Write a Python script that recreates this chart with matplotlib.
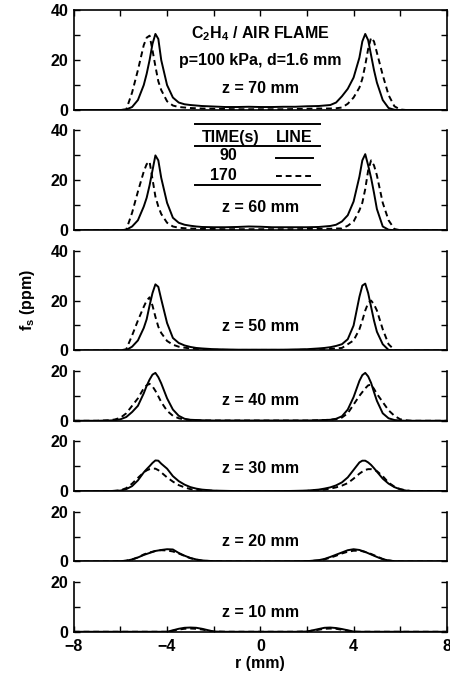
import numpy as np
import matplotlib
matplotlib.use('Agg')
import matplotlib.pyplot as plt
from matplotlib.lines import Line2D
from matplotlib.ticker import MultipleLocator

plt.rcParams['font.family'] = 'Liberation Sans'
plt.rcParams['font.weight'] = 'bold'
plt.rcParams['axes.labelweight'] = 'bold'
plt.rcParams['mathtext.fontset'] = 'custom'
plt.rcParams['mathtext.rm'] = 'Liberation Sans:bold'
plt.rcParams['mathtext.it'] = 'Liberation Sans:bold'
plt.rcParams['mathtext.bf'] = 'Liberation Sans:bold'

FS = 11.5

# radial positions (mm)
r = [-8, -7, -6.5, -6.25, -6, -5.75, -5.5, -5.25, -5, -4.875, -4.75, -4.625, -4.5, -4.375, -4.25,
     -4, -3.75, -3.5, -3.25, -3, -2.75, -2.5,
     -2, -1.5, -1, -0.5, 0, 0.5, 1, 1.5, 2,
     2.5, 2.75, 3, 3.25, 3.5, 3.75, 4, 4.25, 4.375, 4.5, 4.625, 4.75, 4.875, 5,
     5.25, 5.5, 5.75, 6, 6.25, 6.5, 7, 8]

heights = [70, 60, 50, 40, 30, 20, 10]
ymax = [40, 40, 40, 20, 20, 20, 20]

# soot volume fraction (ppm), t = 90 s (solid) and 170 s (dashed)
fs70_90 = [0, 0, 0, 0, 0, 0.2, 1.2, 4, 10, 14.5, 20, 26.5, 30.5, 28.5, 20, 10, 5, 3, 2.3, 2, 1.8, 1.6,
           1.4, 1.2, 1.2, 1.3, 1.2, 1.2, 1.3, 1.3, 1.5,
           1.6, 1.8, 2, 3, 5.5, 8.5, 13, 21, 27.5, 30.5, 28, 22, 16, 11, 4, 0.8, 0.1, 0, 0, 0, 0, 0]
fs70_170 = [0, 0, 0, 0, 0, 0.2, 7, 16, 26, 29, 29.8, 24, 17.5, 11.5, 8, 3.5, 1.8, 1.2, 1, 0.8, 0.7, 0.6,
            0.5, 0.4, 0.3, 0.3, 0.3, 0.3, 0.3, 0.4, 0.5,
            0.6, 0.6, 0.6, 0.7, 1, 2.5, 5, 9, 12.5, 18, 24.5, 29, 27.5, 23, 14, 6, 1.5, 0.2, 0, 0, 0, 0]

fs60_90 = [0, 0, 0, 0, 0, 0.2, 1.5, 4, 9.5, 13, 18, 24, 30, 28, 21, 11, 5, 3, 2.2, 1.8, 1.5, 1.3,
           1.2, 1.2, 1.3, 1.5, 1.4, 1.2, 1.2, 1.2, 1.2,
           1.3, 1.5, 1.7, 2.2, 3.5, 6, 11.5, 21.5, 28, 30.5, 26, 21, 15, 8.5, 1.5, 0.2, 0, 0, 0, 0, 0, 0]
fs60_170 = [0, 0, 0, 0, 0, 0.2, 7, 15.5, 23.5, 26.5, 27.5, 20.5, 13.5, 9.5, 6.5, 3, 1.5, 1, 0.8, 0.7, 0.6, 0.5,
            0.5, 0.4, 0.4, 0.4, 0.4, 0.4, 0.4, 0.4, 0.5,
            0.5, 0.6, 0.6, 0.7, 0.7, 1.8, 3.5, 8, 11, 16.5, 24, 28, 26, 22, 11, 4, 0.5, 0, 0, 0, 0, 0]

fs50_90 = [0, 0, 0, 0, 0, 0.1, 1.5, 4, 9, 12.5, 18, 23, 26.5, 25.5, 20.5, 11, 5, 3, 2, 1.4, 1, 0.8,
           0.5, 0.4, 0.3, 0.3, 0.3, 0.3, 0.3, 0.4, 0.5,
           0.8, 1, 1.3, 1.8, 2.5, 4.5, 10, 21.5, 26, 26.8, 23, 17.5, 12, 7.5, 2.5, 0.2, 0, 0, 0, 0, 0, 0]
fs50_170 = [0, 0, 0, 0, 0, 0.5, 6, 12, 17.5, 20, 21.3, 18, 13.5, 9.5, 7, 3.8, 2.3, 1.5, 1.1, 0.8, 0.6, 0.5,
            0.3, 0.2, 0.2, 0.2, 0.2, 0.2, 0.2, 0.2, 0.3,
            0.4, 0.5, 0.6, 0.8, 1, 2.5, 4, 8.5, 12, 16, 19, 20, 18.5, 16, 8.5, 2.5, 0.2, 0, 0, 0, 0, 0]

fs40_90 = [0, 0, 0.1, 0.2, 0.6, 1.5, 3.5, 6, 11, 14, 16.5, 18.5, 19.2, 17.5, 15, 9, 4.5, 2, 0.8, 0.4, 0.3, 0.2,
           0.1, 0.1, 0.1, 0.1, 0.1, 0.1, 0.1, 0.1, 0.1,
           0.2, 0.3, 0.4, 0.8, 1.8, 4.5, 9.5, 16, 18.3, 19.2, 17.8, 15.2, 11.5, 8, 3, 1, 0.3, 0.1, 0, 0, 0, 0]
fs40_170 = [0, 0, 0.2, 0.5, 1.2, 3, 6, 9, 13, 14.2, 14.8, 13.8, 12, 9.8, 7.5, 4, 2, 1, 0.5, 0.3, 0.2, 0.1,
            0.1, 0.1, 0.1, 0.1, 0.1, 0.1, 0.1, 0.1, 0.1,
            0.2, 0.3, 0.4, 0.6, 1.3, 3, 6.5, 10, 11.5, 13, 14.2, 14.5, 12.8, 10.8, 7.5, 4.2, 2, 0.6, 0.2, 0, 0, 0]

fs30_90 = [0, 0, 0, 0.1, 0.2, 0.8, 2, 4.3, 7.5, 8.8, 10, 11.3, 12.3, 12.2, 11, 9, 6, 4, 2.6, 1.6, 1, 0.6,
           0.2, 0.1, 0, 0, 0, 0, 0, 0.1, 0.2,
           0.6, 1, 1.5, 2.3, 3.5, 5.5, 8.5, 11.5, 12.2, 12.2, 11.5, 10.5, 9.2, 7.8, 5, 3, 1.6, 0.7, 0.2, 0, 0, 0]
fs30_170 = [0, 0, 0, 0.1, 0.3, 1.2, 3, 5.3, 7.5, 8.3, 8.8, 9, 9, 8.4, 7.5, 5.5, 3.8, 2.4, 1.5, 0.8, 0.5, 0.3,
            0.1, 0, 0, 0, 0, 0, 0, 0, 0.1,
            0.4, 0.6, 1, 1.5, 2.2, 3.2, 5, 7, 7.8, 8.5, 8.8, 8.8, 8.5, 8, 6, 3.4, 1.8, 0.8, 0.3, 0, 0, 0]

fs20_90 = [0, 0, 0, 0, 0.1, 0.3, 0.8, 1.6, 2.6, 3.0, 3.4, 3.8, 4.2, 4.4, 4.6, 4.9, 4.8, 3.4, 2.3, 1.4, 0.8, 0.4,
           0.1, 0, 0, 0, 0, 0, 0, 0, 0.1,
           0.5, 1, 1.8, 2.7, 3.6, 4.5, 4.9, 4.6, 4.2, 3.8, 3.3, 2.8, 2.3, 1.8, 0.9, 0.4, 0.1, 0, 0, 0, 0, 0]
fs20_170 = [0, 0, 0, 0, 0.1, 0.3, 0.8, 1.6, 2.8, 3.2, 3.6, 3.9, 4.2, 4.4, 4.5, 4.4, 4.0, 3.2, 2.2, 1.3, 0.7, 0.3,
            0.1, 0, 0, 0, 0, 0, 0, 0, 0.1,
            0.4, 0.8, 1.5, 2.3, 3.2, 3.9, 4.3, 4.3, 4.1, 3.8, 3.4, 3.0, 2.5, 2.0, 1.0, 0.4, 0.1, 0, 0, 0, 0, 0]

fs10_90 = [0, 0, 0, 0, 0, 0, 0, 0, 0, 0, 0, 0, 0, 0, 0, 0, 0.6, 1.2, 1.6, 1.7, 1.6, 1.2,
           0.1, 0, 0, 0, 0, 0, 0, 0, 0.1,
           1.1, 1.6, 1.7, 1.5, 1.1, 0.6, 0.1, 0, 0, 0, 0, 0, 0, 0, 0, 0, 0, 0, 0, 0, 0, 0]
fs10_170 = [0, 0, 0, 0, 0, 0, 0, 0, 0, 0, 0, 0, 0, 0, 0, 0, 0.4, 0.9, 1.2, 1.3, 1.2, 0.9,
            0.1, 0, 0, 0, 0, 0, 0, 0, 0.1,
            0.8, 1.2, 1.3, 1.2, 0.8, 0.4, 0, 0, 0, 0, 0, 0, 0, 0, 0, 0, 0, 0, 0, 0, 0, 0]

solid = [fs70_90, fs60_90, fs50_90, fs40_90, fs30_90, fs20_90, fs10_90]
dashed = [fs70_170, fs60_170, fs50_170, fs40_170, fs30_170, fs20_170, fs10_170]
zlab_y = [8.8, 9.3, 9.5, 8.2, 9, 7.9, 7.9]

fig, axes = plt.subplots(7, 1, figsize=(4.5, 6.83), dpi=100, sharex=True,
                         gridspec_kw=dict(height_ratios=[2, 2, 2, 1, 1, 1, 1], hspace=0.287,
                                          left=0.164, right=0.993, top=0.985, bottom=0.075))

n = len(axes)
for i, ax in enumerate(axes):
    ax.plot(r, solid[i], color='black', lw=1.4)
    ax.plot(r, dashed[i], color='black', lw=1.4, ls=(0, (3, 2)))
    ax.set_xlim(-8, 8)
    ax.set_ylim(0, ymax[i])
    ax.xaxis.set_major_locator(MultipleLocator(4))
    ax.xaxis.set_minor_locator(MultipleLocator(2))
    ax.yaxis.set_major_locator(MultipleLocator(20))
    ax.yaxis.set_minor_locator(MultipleLocator(10))
    # only the top panel has a top frame; x ticks on outer edges only
    ax.tick_params(which='both', direction='in', right=True, length=4, width=1,
                   labelsize=FS, top=(i == 0), bottom=(i == n - 1))
    ax.tick_params(axis='y', pad=4)
    ax.tick_params(axis='x', pad=5)
    for s in ax.spines.values():
        s.set_linewidth(1.2)
    if i > 0:
        ax.spines['top'].set_visible(False)
    ax.text(0, zlab_y[i], f'z = {heights[i]} mm', ha='center', va='center', fontsize=FS)

axes[0].text(0, 30.8, r'$\mathrm{C_2H_4}$ / AIR FLAME', ha='center', va='center', fontsize=FS)
axes[0].text(0, 20, 'p=100 kPa, d=1.6 mm', ha='center', va='center', fontsize=FS)

# legend table in the z = 60 mm panel
ax = axes[1]
for yy in [1.065, 0.841, 0.455]:
    ax.add_line(Line2D([0.324, 0.660], [yy, yy], transform=ax.transAxes, color='black',
                       lw=1.4, clip_on=False))
ax.text(0.420, 0.925, 'TIME(s)', transform=ax.transAxes, ha='center', va='center', fontsize=FS)
ax.text(0.590, 0.925, 'LINE', transform=ax.transAxes, ha='center', va='center', fontsize=FS)
ax.text(0.437, 0.745, '90', transform=ax.transAxes, ha='right', va='center', fontsize=FS)
ax.text(0.437, 0.545, '170', transform=ax.transAxes, ha='right', va='center', fontsize=FS)
ax.add_line(Line2D([0.543, 0.642], [0.727, 0.727], transform=ax.transAxes, color='black', lw=1.4))
ax.add_line(Line2D([0.543, 0.642], [0.545, 0.545], transform=ax.transAxes, color='black', lw=1.4,
                   ls=(0, (3, 2))))

axes[-1].set_xlabel('r (mm)', fontsize=FS, fontweight='bold', labelpad=2)
fig.text(0.062, 0.561, r'$\mathrm{f_s}$ (ppm)', rotation=90, ha='center', va='center', fontsize=FS)

fig.savefig('out.png', dpi=100)
